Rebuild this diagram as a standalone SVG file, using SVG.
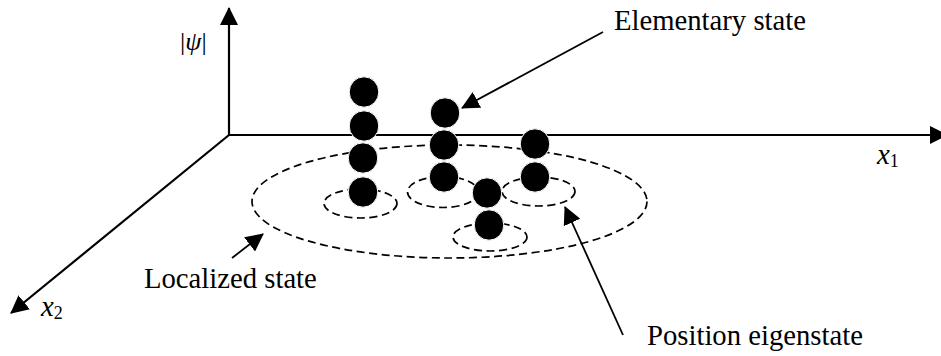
<svg xmlns="http://www.w3.org/2000/svg" width="941" height="356" viewBox="0 0 941 356">
<defs>
<style>
text{font-family:'Liberation Serif','Times New Roman',Times,'DejaVu Serif',serif;font-size:28.7px;fill:#000}
.it{font-style:italic}
.sub{font-size:18px;font-style:normal}
.axis{stroke:#000;stroke-width:2.2;fill:none}
.lead{stroke:#000;stroke-width:1.8;fill:none}
.dash{stroke:#000;stroke-width:1.7;fill:none;stroke-dasharray:8 4.5}
.dot{fill:#000;stroke:#fff;stroke-width:1}
</style>
<marker id="ah" viewBox="0 0 18 18" refX="17" refY="9" markerWidth="18" markerHeight="18" markerUnits="userSpaceOnUse" orient="auto">
<path d="M0,0 L18,9 L0,18 Z" fill="#000"/>
</marker>
</defs>
<rect width="941" height="356" fill="#fff"/>
<g id="regions">
<ellipse id="localized-region" class="dash" cx="449.5" cy="201.5" rx="197.5" ry="56.5"/>
<ellipse id="pos1" class="dash" cx="360.5" cy="203.5" rx="36.5" ry="14.5"/>
<ellipse id="pos2" class="dash" cx="443" cy="192" rx="35.5" ry="15.5"/>
<ellipse id="pos3" class="dash" cx="538.5" cy="191.5" rx="36.5" ry="14.5"/>
<ellipse id="pos4" class="dash" cx="490" cy="237" rx="37" ry="14"/>
</g>
<g id="connectors">
<line class="axis" x1="229" y1="135" x2="229" y2="8" marker-end="url(#ah)"/>
<line class="axis" x1="229" y1="135" x2="947" y2="135" marker-end="url(#ah)"/>
<line class="axis" x1="229" y1="135" x2="11" y2="313" stroke-width="1.8" marker-end="url(#ah)"/>
<line class="lead" x1="603" y1="32" x2="462" y2="108" marker-end="url(#ah)"/>
<line class="lead" x1="232" y1="258" x2="263" y2="234" marker-end="url(#ah)"/>
<line class="lead" x1="623" y1="335" x2="565" y2="207" marker-end="url(#ah)"/>
</g>
<g id="column1">
<ellipse class="dot" cx="364" cy="92" rx="14.8" ry="15.2"/>
<ellipse class="dot" cx="364" cy="126" rx="14.8" ry="15.2"/>
<ellipse class="dot" cx="363" cy="158" rx="14.8" ry="15.2"/>
<ellipse class="dot" cx="363" cy="192" rx="14.8" ry="15.2"/>
</g>
<g id="column2">
<ellipse class="dot" cx="445" cy="113" rx="14.8" ry="15.2"/>
<ellipse class="dot" cx="444" cy="145" rx="14.8" ry="15.2"/>
<ellipse class="dot" cx="444" cy="177" rx="14.8" ry="15.2"/>
</g>
<g id="column3">
<ellipse class="dot" cx="535" cy="144" rx="14.8" ry="15.2"/>
<ellipse class="dot" cx="535" cy="177" rx="14.8" ry="15.2"/>
</g>
<g id="column4">
<ellipse class="dot" cx="487" cy="193" rx="14.8" ry="15.2"/>
<ellipse class="dot" cx="489" cy="225" rx="14.8" ry="15.2"/>
</g>
<g id="labels">
<text id="psi-label" x="180" y="50" style="font-size:26px">|<tspan class="it">ψ</tspan>|</text>
<text id="x1-label" class="it" x="877" y="164">x<tspan class="sub" dy="3">1</tspan></text>
<text id="x2-label" class="it" x="41" y="316">x<tspan class="sub" dy="3">2</tspan></text>
<text id="elementary-label" x="614" y="30">Elementary state</text>
<text id="localized-label" x="144" y="288">Localized state</text>
<text id="position-label" x="647" y="345">Position eigenstate</text>
</g>
</svg>
